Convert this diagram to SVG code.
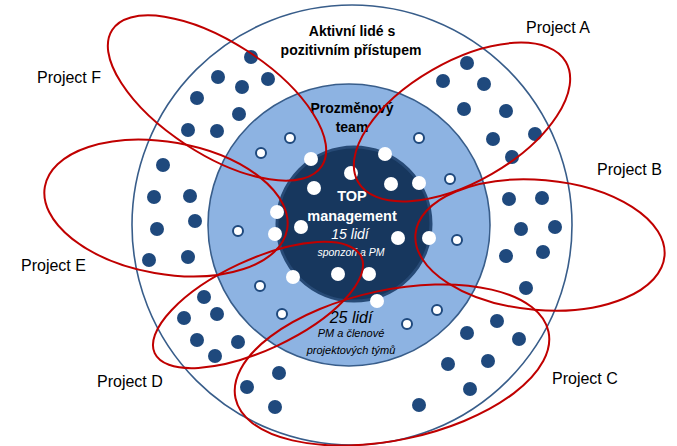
<svg xmlns="http://www.w3.org/2000/svg" width="677" height="446" viewBox="0 0 677 446">
<style>
.dk{fill:#1F497D}
.wo{fill:#FFFFFF;stroke:#1F497D;stroke-width:2}
.ws{fill:#FFFFFF}
.prj{fill:none;stroke:#C00000;stroke-width:2}
.lbl{font-family:"Liberation Sans",Arial,sans-serif;font-size:16px;fill:#000000}
.b{font-family:"Liberation Sans",Arial,sans-serif;font-weight:bold;text-anchor:middle}
.it{font-family:"Liberation Sans",Arial,sans-serif;font-style:italic;text-anchor:middle}
</style>
<rect width="677" height="446" fill="#FFFFFF"/>
<g id="outer">
<circle cx="352" cy="225" r="220" fill="#FFFFFF" stroke="#385D8A" stroke-width="1.6"/>
<g>
<circle class="dk" cx="251" cy="57" r="7"/><circle class="dk" cx="218" cy="77" r="7"/><circle class="dk" cx="242" cy="87" r="7"/><circle class="dk" cx="268" cy="79" r="7"/><circle class="dk" cx="197" cy="98" r="7"/><circle class="dk" cx="239" cy="114" r="7"/><circle class="dk" cx="188" cy="130" r="7"/><circle class="dk" cx="217" cy="131" r="7"/>
<circle class="dk" cx="467" cy="63" r="7"/><circle class="dk" cx="443" cy="81" r="7"/><circle class="dk" cx="484" cy="84" r="7"/><circle class="dk" cx="464" cy="109" r="7"/><circle class="dk" cx="506" cy="111" r="7"/><circle class="dk" cx="493" cy="139" r="7"/><circle class="dk" cx="535" cy="134" r="7"/><circle class="dk" cx="512" cy="157" r="7"/>
<circle class="dk" cx="509" cy="199" r="7"/><circle class="dk" cx="542" cy="198" r="7"/><circle class="dk" cx="521" cy="229" r="7"/><circle class="dk" cx="555" cy="227" r="7"/><circle class="dk" cx="506" cy="256" r="7"/><circle class="dk" cx="543" cy="252" r="7"/><circle class="dk" cx="526" cy="288" r="7"/>
<circle class="dk" cx="497" cy="321" r="7"/><circle class="dk" cx="467" cy="333" r="7"/><circle class="dk" cx="519" cy="339" r="7"/><circle class="dk" cx="448" cy="364" r="7"/><circle class="dk" cx="488" cy="361" r="7"/><circle class="dk" cx="470" cy="389" r="7"/><circle class="dk" cx="419" cy="405" r="7"/>
<circle class="dk" cx="204" cy="297" r="7"/><circle class="dk" cx="184" cy="318" r="7"/><circle class="dk" cx="217" cy="314" r="7"/><circle class="dk" cx="197" cy="340" r="7"/><circle class="dk" cx="238" cy="342" r="7"/><circle class="dk" cx="215" cy="356" r="7"/><circle class="dk" cx="279" cy="373" r="7"/><circle class="dk" cx="247" cy="387" r="7"/><circle class="dk" cx="275" cy="407" r="7"/>
<circle class="dk" cx="163" cy="165" r="7"/><circle class="dk" cx="154" cy="197" r="7"/><circle class="dk" cx="190" cy="196" r="7"/><circle class="dk" cx="157" cy="229" r="7"/><circle class="dk" cx="195" cy="221" r="7"/><circle class="dk" cx="149" cy="260" r="7"/><circle class="dk" cx="188" cy="257" r="7"/>
</g>
<text class="b" x="352" y="36" font-size="14">Aktivní lidé s</text>
<text class="b" x="351" y="55" font-size="14">pozitivním přístupem</text>
</g>
<g id="middle">
<circle cx="349" cy="225" r="141" fill="#8DB3E2" stroke="#385D8A" stroke-width="1.6"/>
<circle class="wo" cx="290" cy="138" r="5"/><circle class="wo" cx="261" cy="153" r="5"/><circle class="wo" cx="419" cy="138" r="5"/><circle class="wo" cx="450" cy="179" r="5"/><circle class="wo" cx="238" cy="231" r="5"/><circle class="wo" cx="457" cy="240" r="5"/><circle class="wo" cx="260" cy="286" r="5"/><circle class="wo" cx="282" cy="314" r="5"/><circle class="wo" cx="437" cy="310" r="5"/><circle class="wo" cx="407" cy="324" r="5"/>
<text class="b" x="352" y="113" font-size="14" fill="#000000">Prozměnový</text>
<text class="b" x="352" y="132" font-size="14" fill="#000000">team</text>
<text class="it" x="351" y="323" font-size="16" fill="#000000">25 lidí</text>
<text class="it" x="351" y="337" font-size="11" fill="#000000">PM a členové</text>
<text class="it" x="351" y="354" font-size="11" fill="#000000">projektových týmů</text>
</g>
<g id="inner">
<circle cx="354" cy="224" r="77" fill="#17375E" stroke="#274A76" stroke-width="3"/>
<circle class="ws" cx="311" cy="159" r="7"/><circle class="ws" cx="385" cy="154" r="7"/><circle class="ws" cx="351" cy="173" r="7"/><circle class="ws" cx="314" cy="188" r="7"/><circle class="ws" cx="391" cy="184" r="7"/><circle class="ws" cx="419" cy="183" r="7"/><circle class="ws" cx="277" cy="212" r="7"/><circle class="ws" cx="301" cy="227" r="7"/><circle class="ws" cx="275" cy="234" r="7"/><circle class="ws" cx="398" cy="238" r="7"/><circle class="ws" cx="429" cy="238" r="7"/><circle class="ws" cx="293" cy="277" r="7"/><circle class="ws" cx="338" cy="274" r="7"/><circle class="ws" cx="369" cy="274" r="7"/><circle class="ws" cx="377" cy="301" r="7"/>
<text class="b" x="352" y="201" font-size="14.5" fill="#FFFFFF">TOP</text>
<text class="b" x="352" y="221" font-size="14.5" fill="#FFFFFF">management</text>
<text class="it" x="350" y="239" font-size="14" fill="#FFFFFF">15 lidí</text>
<text class="it" x="351" y="256" font-size="10.5" fill="#FFFFFF">sponzoři a PM</text>
</g>
<g id="connectors"/>
<g id="projectA"><ellipse class="prj" cx="462" cy="122" rx="120" ry="60" transform="rotate(-30 462 122)"/><text class="lbl" x="526" y="33">Project A</text></g>
<g id="projectB"><ellipse class="prj" cx="540" cy="245" rx="125" ry="65" transform="rotate(5 540 245)"/><text class="lbl" x="597" y="175">Project B</text></g>
<g id="projectC"><ellipse class="prj" cx="392" cy="365" rx="160" ry="75" transform="rotate(-12 392 365)"/><text class="lbl" x="552" y="384">Project C</text></g>
<g id="projectD"><ellipse class="prj" cx="258" cy="305" rx="114" ry="45" transform="rotate(-25 258 305)"/><text class="lbl" x="97" y="387">Project D</text></g>
<g id="projectE"><ellipse class="prj" cx="166" cy="208" rx="123" ry="66" transform="rotate(10 166 208)"/><text class="lbl" x="21" y="271">Project E</text></g>
<g id="projectF"><ellipse class="prj" cx="217" cy="98" rx="125" ry="56" transform="rotate(33 217 98)"/><text class="lbl" x="37" y="83">Project F</text></g>
</svg>
